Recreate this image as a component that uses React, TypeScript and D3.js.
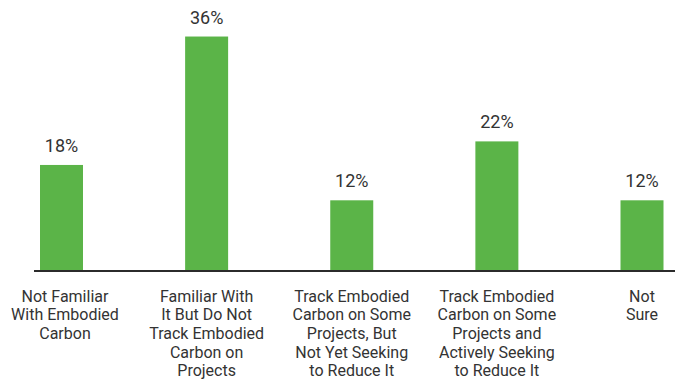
import React from "react";
import * as d3 from "d3";

const categories: string[][] = [
  ["Not Familiar", "With Embodied", "Carbon"],
  ["Familiar With", "It But Do Not", "Track Embodied", "Carbon on", "Projects"],
  ["Track Embodied", "Carbon on Some", "Projects, But", "Not Yet Seeking", "to Reduce It"],
  ["Track Embodied", "Carbon on Some", "Projects and", "Actively Seeking", "to Reduce It"],
  ["Not", "Sure"],
];
// bar heights as drawn in the reference (the second bar is drawn taller than its label)
const barValues: number[] = [18, 39.8, 12, 22, 12];
const valueLabels: string[] = ["18%", "36%", "12%", "22%", "12%"];

const W = 675;
const H = 379;

export default function App() {
  const keys = categories.map((_, i) => String(i));
  const x = d3.scalePoint<string>().domain(keys).range([61.5, 642]);
  const y = d3.scaleLinear().domain([0, 46]).range([271, 0]);
  const bw = 43;
  const green = "#5BB448";
  const textColor = "#333333";
  const font = "Roboto, 'Open Sans', sans-serif";

  return (
    <svg
      width={W}
      height={H}
      style={{ position: "absolute", left: 0, top: 0, background: "#fff" }}
    >
      {barValues.map((v, i) => {
        const cx = x(String(i)) as number;
        return (
          <g key={i}>
            <rect x={cx - bw / 2} y={y(v)} width={bw} height={y(0) - y(v)} fill={green} />
            <text
              x={cx}
              y={y(v) - 13}
              textAnchor="middle"
              fontFamily={font}
              fontSize={18}
              fill={textColor}
            >
              {valueLabels[i]}
            </text>
          </g>
        );
      })}
      <line x1={34} x2={W} y1={y(0)} y2={y(0)} stroke="#2b2b2b" strokeWidth={2} />
      {categories.map((lines, i) => {
        const cx = (x(String(i)) as number) + (i === 0 ? 3.5 : 0);
        return (
          <text
            key={i}
            textAnchor="middle"
            fontFamily={font}
            fontSize={16}
            fill={textColor}
          >
            {lines.map((ln, j) => (
              <tspan key={j} x={cx} y={301.5 + j * 18.7}>
                {ln}
              </tspan>
            ))}
          </text>
        );
      })}
    </svg>
  );
}
